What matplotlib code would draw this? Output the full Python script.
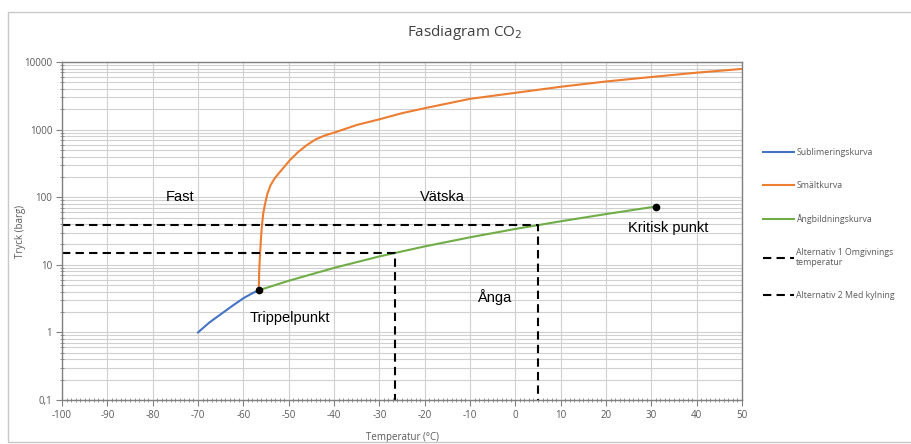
import matplotlib
matplotlib.use("Agg")
import matplotlib.pyplot as plt
from matplotlib.patches import Rectangle
from matplotlib.ticker import FixedLocator, FixedFormatter, MultipleLocator

plt.rcParams['axes.unicode_minus'] = False

# Sublimeringskurva
subl_t = [-70, -67.5, -65, -62.5, -60, -58, -56.6]
subl_p = [1.0, 1.4, 1.85, 2.45, 3.2, 3.8, 4.2]

# Smältkurva
smalt_t = [-56.6, -56.5, -56.3, -56.1, -55.9, -55.6, -55.2, -54.7, -54.0, -53.2, -52.2, -51.0,
           -49.7, -48.0, -46.0, -44.0, -42.0, -39.8, -35.0, -29.8, -25.0, -19.6,
           -10, 0, 10, 20, 30, 40, 50]
smalt_p = [4.2, 8, 15, 25, 38, 58, 80, 112, 150, 185, 225, 280,
           355, 460, 590, 720, 820, 910, 1170, 1430, 1750, 2100,
           2850, 3500, 4300, 5150, 6000, 6950, 7900]

# Ångbildningskurva
ang_t = [-56.6, -50, -40, -30, -20, -10, 0, 10, 20, 31]
ang_p = [4.2, 5.8, 9.0, 13.3, 18.7, 25.5, 33.9, 44.0, 56.3, 72.8]

# Alternativ
alt1_t = [-100, 5, 5]
alt1_p = [39, 39, 0.1]
alt2_t = [-100, -26.5, -26.5]
alt2_p = [15, 15, 0.1]

punkter_t = [-56.6, 31]
punkter_p = [4.2, 72.8]

ytick_vals = [0.1, 1, 10, 100, 1000, 10000]
ytick_labels = ["0,1", "1", "10", "100", "1000", "10000"]

fig = plt.figure(figsize=(9.11, 4.44), dpi=100)
ax = fig.add_axes([62/911, 1-400/444, 680/911, 338/444])

# ram runt diagramområdet
fig.patches.append(Rectangle((8/911, 2/444), 1.0, 430/444, transform=fig.transFigure,
                             fill=False, edgecolor='#c8c8c8', lw=1))

ax.plot(subl_t, subl_p, color='#4472c4', lw=1.5, label='Sublimeringskurva')
ax.plot(smalt_t, smalt_p, color='#ed7d31', lw=1.5, label='Smältkurva')
ax.plot(ang_t, ang_p, color='#70ad47', lw=1.5, label='Ångbildningskurva')
ax.plot(alt1_t, alt1_p, color='black', lw=1.5, dashes=(4, 2.5),
        label='Alternativ 1 Omgivnings\ntemperatur')
ax.plot(alt2_t, alt2_p, color='black', lw=1.5, dashes=(4, 2.5),
        label='Alternativ 2 Med kylning')
ax.plot(punkter_t, punkter_p, 'o', color='black', ms=4.5, zorder=5)

ax.set_yscale('log')
ax.set_xlim(-100, 50)
ax.set_ylim(0.1, 10000)

ax.xaxis.set_major_locator(MultipleLocator(10))
ax.xaxis.set_minor_locator(MultipleLocator(1))
ax.yaxis.set_major_locator(FixedLocator(ytick_vals))
ax.yaxis.set_major_formatter(FixedFormatter(ytick_labels))

ax.grid(which='major', color='#d0d0d0', lw=0.8)
ax.grid(which='minor', axis='y', color='#d0d0d0', lw=0.8)
ax.set_axisbelow(True)

ax.tick_params(which='major', direction='out', length=4, color='#808080',
               labelsize=7, labelcolor='#595959', pad=3)
ax.tick_params(which='minor', direction='inout', length=3, color='#808080')
for s in ax.spines.values():
    s.set_color('#808080')
    s.set_linewidth(1)
for lab in ax.get_xticklabels() + ax.get_yticklabels():
    lab.set_family('Open Sans')

ax.set_xlabel('Temperatur (°C)', fontsize=7, color='#595959', family='Open Sans', labelpad=8)
ax.set_ylabel('Tryck (barg)', fontsize=7, color='#595959', family='Open Sans')
ax.yaxis.set_label_coords(-36/680, 0.5)

txt = dict(fontsize=10.5, family='Liberation Sans', ha='center', va='center', color='black')
ax.text(-74, 100, 'Fast', **txt)
ax.text(-16, 100, 'Vätska', **txt)
ax.text(33.7, 34.6, 'Kritisk punkt', **txt)
ax.text(-49.7, 1.62, 'Trippelpunkt', **txt)
ax.text(-4.7, 3.3, 'Ånga', **txt)

fig.text(465/911, 1-33/444, 'Fasdiagram CO$_2$', fontsize=11, family='Open Sans',
         color='#404040', ha='center', va='center')

leg = ax.legend(loc='upper left', bbox_to_anchor=(755/911, 1-140/444),
                bbox_transform=fig.transFigure, frameon=False,
                prop={'family': 'Open Sans', 'size': 6.3},
                handlelength=3.6, handletextpad=0.2, labelspacing=2.75)
for t in leg.get_texts():
    t.set_color('#595959')

fig.savefig('out.png', dpi=100)
